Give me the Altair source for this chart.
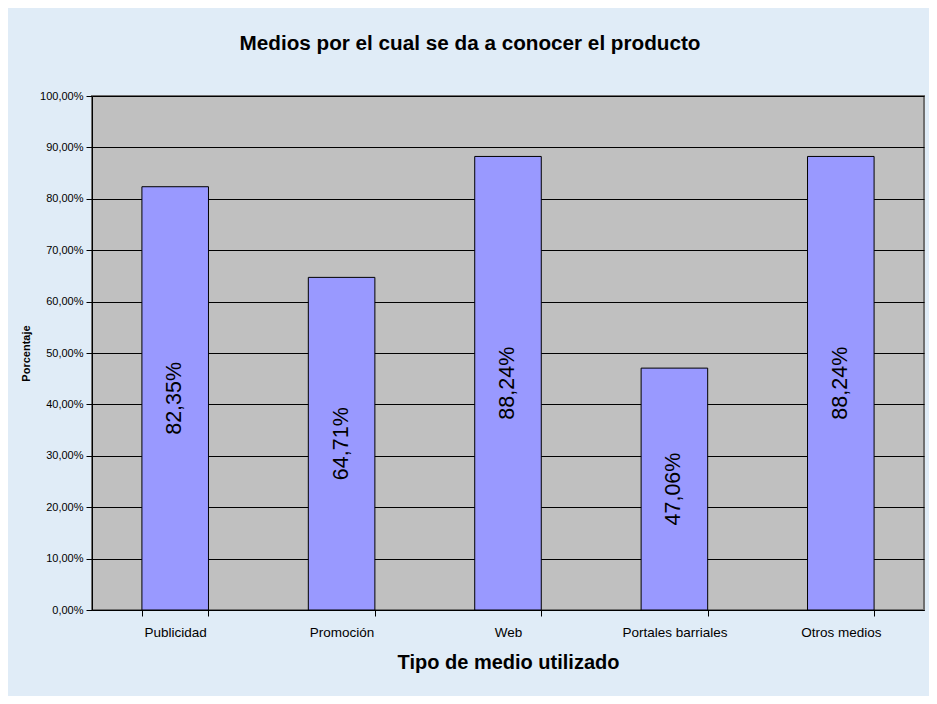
import altair as alt
import pandas as pd

categories = ["Publicidad", "Promoción", "Web", "Portales barriales", "Otros medios"]
values = [0.8235, 0.6471, 0.8824, 0.4706, 0.8824]
labels = ["82,35%", "64,71%", "88,24%", "47,06%", "88,24%"]
y_ticks = [0.0, 0.1, 0.2, 0.3, 0.4, 0.5, 0.6, 0.7, 0.8, 0.9, 1.0]

df = pd.DataFrame({"medio": categories, "valor": values, "etiqueta": labels})

FONT = "Liberation Sans"

x_enc = alt.X(
    "medio:N",
    sort=categories,
    scale=alt.Scale(paddingInner=0.6, paddingOuter=0.3),
    axis=alt.Axis(
        title="Tipo de medio utilizado",
        labelAngle=0,
        labelFontSize=13.5,
        labelFont=FONT,
        labelColor="#000000",
        labelPadding=9,
        tickBand="extent",
        tickSize=6,
        tickColor="#000000",
        domainColor="#000000",
        titleFont=FONT,
        titleFontSize=20,
        titleFontWeight="bold",
        titleColor="#000000",
        titlePadding=14,
        grid=False,
    ),
)

y_scale = alt.Scale(domain=[0, 1], nice=False)

bars = alt.Chart(df).mark_bar(
    color="#9999FF", stroke="#000000", strokeWidth=1
).encode(
    x=x_enc,
    y=alt.Y(
        "valor:Q",
        scale=y_scale,
        axis=alt.Axis(
            title="Porcentaje",
            values=y_ticks,
            labelExpr="replace(format(datum.value, '.2%'), '.', ',')",
            labelFont=FONT,
            labelFontSize=11,
            labelColor="#000000",
            labelPadding=3,
            tickSize=6,
            tickColor="#000000",
            domainColor="#000000",
            gridColor="#000000",
            gridWidth=1,
            titleFont=FONT,
            titleFontSize=11,
            titleFontWeight="bold",
            titleColor="#000000",
            titlePadding=8,
        ),
    ),
)

text = alt.Chart(df).transform_calculate(
    mitad="datum.valor / 2"
).mark_text(
    angle=270, fontSize=21.5, font=FONT, color="#000000", align="center", baseline="middle"
).encode(
    x=alt.X("medio:N", sort=categories),
    y=alt.Y("mitad:Q", scale=y_scale),
    text="etiqueta:N",
)

chart = alt.layer(bars, text).properties(
    width=832,
    height=514,
    autosize=alt.AutoSizeParams(type="none"),
    padding={"left": 84, "top": 88, "right": 5, "bottom": 86},
    background="#E0ECF7",
    title=alt.TitleParams(
        text="Medios por el cual se da a conocer el producto",
        font=FONT,
        fontSize=20.7,
        fontWeight="bold",
        color="#000000",
        anchor="middle",
        dx=-38,
        baseline="alphabetic",
        offset=19,
    ),
).configure_view(
    fill="#C0C0C0", stroke="#707070", strokeWidth=2
)

chart.save("out.html", embed_options={"renderer": "svg", "actions": False})
